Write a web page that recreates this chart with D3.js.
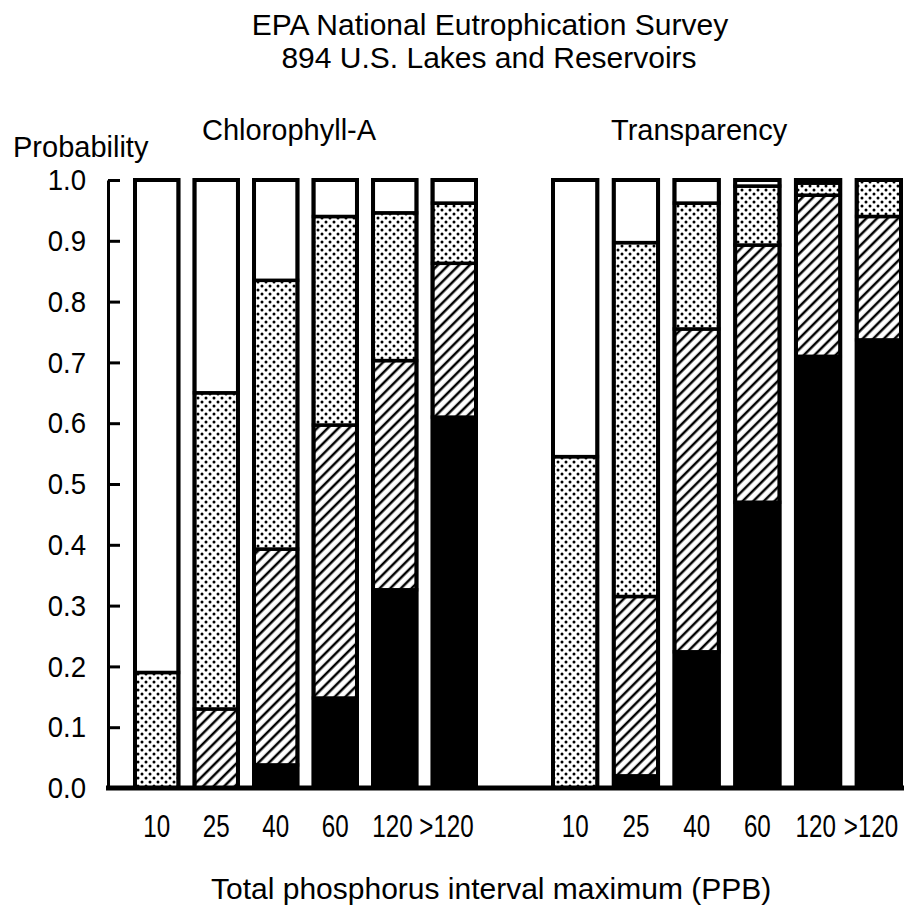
<!DOCTYPE html>
<html>
<head>
<meta charset="utf-8">
<script src="https://cdn.jsdelivr.net/npm/d3@7"></script>
<style>
  body { margin: 0; background: #fff; }
  text { font-family: "Liberation Sans", Arial, sans-serif; fill: #000; }
</style>
</head>
<body>
<div id="container"></div>
<script>
/* CONSTANTS AND GLOBALS */
const width = 904,
  height = 918;

/* DATA */
// phosphorus interval maximum (PPB), same for both panels
const categories = ["10", "25", "40", "60", "120", ">120"];
const yTicks = [0.0, 0.1, 0.2, 0.3, 0.4, 0.5, 0.6, 0.7, 0.8, 0.9, 1.0];
const layerKeys = ["black", "hatched", "dotted", "white"];

// Chlorophyll-A, share of lakes in each class (bottom to top)
const chlBlack   = [0.00, 0.00, 0.038, 0.148, 0.326, 0.610];
const chlHatched = [0.00, 0.13, 0.355, 0.449, 0.377, 0.253];
const chlDotted  = [0.19, 0.52, 0.442, 0.343, 0.243, 0.099];
const chlWhite   = [0.81, 0.35, 0.165, 0.060, 0.054, 0.038];

// Transparency
const trBlack   = [0.000, 0.020, 0.224, 0.470, 0.710, 0.737];
const trHatched = [0.000, 0.295, 0.531, 0.423, 0.265, 0.203];
const trDotted  = [0.545, 0.582, 0.207, 0.097, 0.020, 0.060];
const trWhite   = [0.455, 0.103, 0.038, 0.010, 0.005, 0.000];

const makeRows = (b, h, d, w) => categories.map((c, i) => ({
  cat: c, black: b[i], hatched: h[i], dotted: d[i], white: w[i]
}));

const panels = [
  { name: "Chlorophyll-A", rows: makeRows(chlBlack, chlHatched, chlDotted, chlWhite), range: [135, 476], labelX: 202 },
  { name: "Transparency", rows: makeRows(trBlack, trHatched, trDotted, trWhite), range: [553, 901], labelX: 611 }
];

/* SCALES */
const yScale = d3.scaleLinear()
  .domain([0, 1])
  .range([788, 180]);

const stack = d3.stack().keys(layerKeys);

/* HTML ELEMENTS */
const svg = d3.select("#container")
  .append("svg")
  .attr("width", width)
  .attr("height", height);

// fill patterns
const defs = svg.append("defs");

const dots = defs.append("pattern")
  .attr("id", "dots")
  .attr("patternUnits", "userSpaceOnUse")
  .attr("width", 8)
  .attr("height", 8);
dots.append("rect").attr("width", 8).attr("height", 8).attr("fill", "#fff");
dots.append("circle").attr("cx", 2).attr("cy", 2).attr("r", 1.5).attr("fill", "#000");
dots.append("circle").attr("cx", 6).attr("cy", 6).attr("r", 1.5).attr("fill", "#000");

const hatch = defs.append("pattern")
  .attr("id", "hatch")
  .attr("patternUnits", "userSpaceOnUse")
  .attr("width", 7.5)
  .attr("height", 7.5)
  .attr("patternTransform", "rotate(45)");
hatch.append("rect").attr("width", 7.5).attr("height", 7.5).attr("fill", "#fff");
hatch.append("line")
  .attr("x1", 2).attr("y1", 0).attr("x2", 2).attr("y2", 7.5)
  .attr("stroke", "#000").attr("stroke-width", 2.5);

const fills = { black: "#000", hatched: "url(#hatch)", dotted: "url(#dots)", white: "#fff" };

// narrow the tick digits a bit (the original face is condensed)
const xSqueeze = 0.78,
  ySqueeze = 0.92;

// bars
panels.forEach(p => {
  const xScale = d3.scaleBand()
    .domain(categories)
    .range(p.range)
    .paddingInner(0.27)
    .paddingOuter(0);

  const g = svg.append("g");

  g.selectAll("g.layer")
    .data(stack(p.rows))
    .join("g")
    .attr("class", "layer")
    .attr("fill", d => fills[d.key])
    .selectAll("rect")
    .data(d => d.filter(s => s[1] - s[0] > 0))
    .join("rect")
    .attr("x", d => xScale(d.data.cat))
    .attr("y", d => yScale(d[1]))
    .attr("width", xScale.bandwidth())
    .attr("height", d => yScale(d[0]) - yScale(d[1]))
    .attr("stroke", "#000")
    .attr("stroke-width", 3.5);

  // outer frame of each bar
  g.selectAll("rect.frame")
    .data(p.rows)
    .join("rect")
    .attr("class", "frame")
    .attr("x", d => xScale(d.cat))
    .attr("y", yScale(1))
    .attr("width", xScale.bandwidth())
    .attr("height", yScale(0) - yScale(1))
    .attr("fill", "none")
    .attr("stroke", "#000")
    .attr("stroke-width", 4);

  // x axis labels
  const xAxis = d3.axisBottom(xScale).tickSize(0).tickPadding(0);
  const xg = svg.append("g")
    .attr("transform", `translate(0,${yScale(0)})`)
    .call(xAxis);
  xg.select(".domain").remove();
  xg.selectAll("text")
    .attr("dy", null)
    .attr("y", 49)
    .attr("x", d => d === ">120" ? -10 : (d === "120" ? -3 : 0))
    .attr("font-size", 31)
    .attr("font-family", null)
    .attr("transform", `scale(${xSqueeze},1)`);

  // panel label
  svg.append("text")
    .attr("x", p.labelX)
    .attr("y", 140)
    .attr("font-size", 29)
    .text(p.name);
});

// y axis, ticks pointing inward
const yAxis = d3.axisLeft(yScale)
  .tickValues(yTicks)
  .tickFormat(d3.format(".1f"))
  .tickSizeInner(-12)
  .tickSizeOuter(0)
  .tickPadding(22);
const yg = svg.append("g")
  .attr("transform", "translate(108,0)")
  .call(yAxis);
yg.attr("font-size", 30).attr("font-family", null);
yg.select(".domain").attr("stroke-width", 3);
yg.selectAll(".tick line").attr("stroke-width", 3);
yg.selectAll(".tick text")
  .attr("x", -22 / ySqueeze)
  .attr("transform", `scale(${ySqueeze},1)`);

// baseline
svg.append("line")
  .attr("x1", 106)
  .attr("x2", width)
  .attr("y1", yScale(0))
  .attr("y2", yScale(0))
  .attr("stroke", "#000")
  .attr("stroke-width", 5);

/* TITLES AND LABELS */
svg.append("text")
  .attr("x", 490).attr("y", 35)
  .attr("text-anchor", "middle")
  .attr("font-size", 30)
  .text("EPA National Eutrophication Survey");

svg.append("text")
  .attr("x", 489).attr("y", 68)
  .attr("text-anchor", "middle")
  .attr("font-size", 30)
  .text("894 U.S. Lakes and Reservoirs");

svg.append("text")
  .attr("x", 13).attr("y", 157)
  .attr("font-size", 29)
  .text("Probability");

svg.append("text")
  .attr("x", 211).attr("y", 899)
  .attr("font-size", 30)
  .text("Total phosphorus interval maximum (PPB)");
</script>
</body>
</html>
